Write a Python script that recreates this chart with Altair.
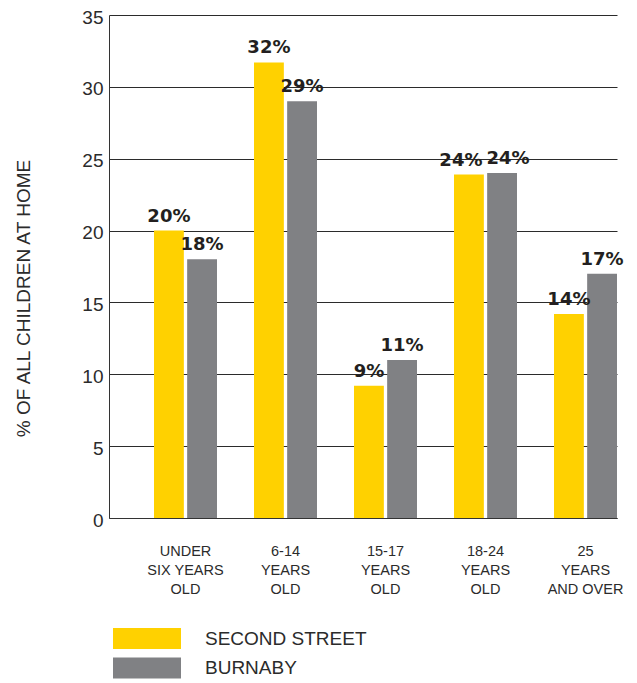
import altair as alt
import pandas as pd

# ---- data ----
categories = ["UNDER|SIX YEARS|OLD", "6-14|YEARS|OLD", "15-17|YEARS|OLD",
              "18-24|YEARS|OLD", "25|YEARS|AND OVER"]
series = ["SECOND STREET", "BURNABY"]
second_street = [20.0, 31.7, 9.2, 23.9, 14.2]
burnaby = [18.0, 29.0, 11.0, 24.0, 17.0]
second_street_labels = ["20%", "32%", "9%", "24%", "14%"]
burnaby_labels = ["18%", "29%", "11%", "24%", "17%"]
y_ticks = [0, 5, 10, 15, 20, 25, 30, 35]

YELLOW = "#FFD100"
GRAY = "#808184"
FONT = "Liberation Sans"
TXT = "#2b2b2b"

rows = []
for i, c in enumerate(categories):
    rows.append({"category": c, "series": series[0], "value": second_street[i], "label": second_street_labels[i]})
    rows.append({"category": c, "series": series[1], "value": burnaby[i], "label": burnaby_labels[i]})
df = pd.DataFrame(rows)

x_enc = alt.X(
    "category:N", sort=categories,
    scale=alt.Scale(paddingInner=0.37, paddingOuter=0.225, align=1),
    axis=alt.Axis(title=None, labelExpr="split(datum.label, '|')", labelAngle=0,
                  labelFont=FONT, labelFontSize=14.5, labelLineHeight=19, labelColor=TXT,
                  labelPadding=26, ticks=False, domainColor="#333333", domainWidth=1,
                  grid=False),
)
xo_enc = alt.XOffset("series:N", sort=series, scale=alt.Scale(paddingInner=0.1))
y_enc = alt.Y(
    "value:Q", scale=alt.Scale(domain=[0, 35], nice=False),
    axis=alt.Axis(values=y_ticks, title="% OF ALL CHILDREN AT HOME", titleFont=FONT,
                  titleFontSize=19, titleFontWeight="normal", titleColor=TXT,
                  titleX=-76, titleY=283,
                  labelFont=FONT, labelFontSize=19, labelColor=TXT, labelPadding=6,
                  labelOffset=2,
                  ticks=False, domainColor="#333333", domainWidth=1,
                  grid=True, gridColor="#2b2b2b", gridWidth=1),
)

color_enc = alt.Color(
    "series:N", sort=series,
    scale=alt.Scale(domain=series, range=[YELLOW, GRAY]),
    legend=alt.Legend(
        orient="none", legendX=27.5, legendY=613, direction="vertical", title=None,
        symbolType="M-3.238,-1L3.238,-1L3.238,1L-3.238,1Z", symbolSize=441,
        symbolStrokeWidth=0, symbolOpacity=1,
        labelFont=FONT, labelFontSize=19, labelColor=TXT, labelOffset=47.5,
        labelLimit=400, rowPadding=8.5, padding=0,
    ),
)

base = alt.Chart(df)
bars = base.mark_bar().encode(x=x_enc, xOffset=xo_enc, y=y_enc, color=color_enc)

text_enc = dict(
    x=alt.X("category:N", sort=categories), xOffset=alt.XOffset("series:N", sort=series),
    y="value:Q", text="label:N")
text_style = dict(font="DejaVu Sans", fontSize=18, fontWeight="bold", color="#231F20",
                  baseline="alphabetic", dy=-9)

crowded = categories[3]
text_main = base.mark_text(**text_style).encode(**text_enc).transform_filter(
    alt.datum.category != crowded)
text_left = base.mark_text(dx=-8, **text_style).encode(**text_enc).transform_filter(
    (alt.datum.category == crowded) & (alt.datum.series == series[0]))
text_right = base.mark_text(dx=6, **text_style).encode(**text_enc).transform_filter(
    (alt.datum.category == crowded) & (alt.datum.series == series[1]))

chart = alt.layer(bars, text_main, text_left, text_right).properties(
    width=508, height=503,
    autosize=alt.AutoSizeParams(type="none"),
    padding={"left": 101, "top": 7, "right": 12, "bottom": 161},
).configure_view(stroke=None)

chart.save("out.html", embed_options={"renderer": "svg", "actions": False})
